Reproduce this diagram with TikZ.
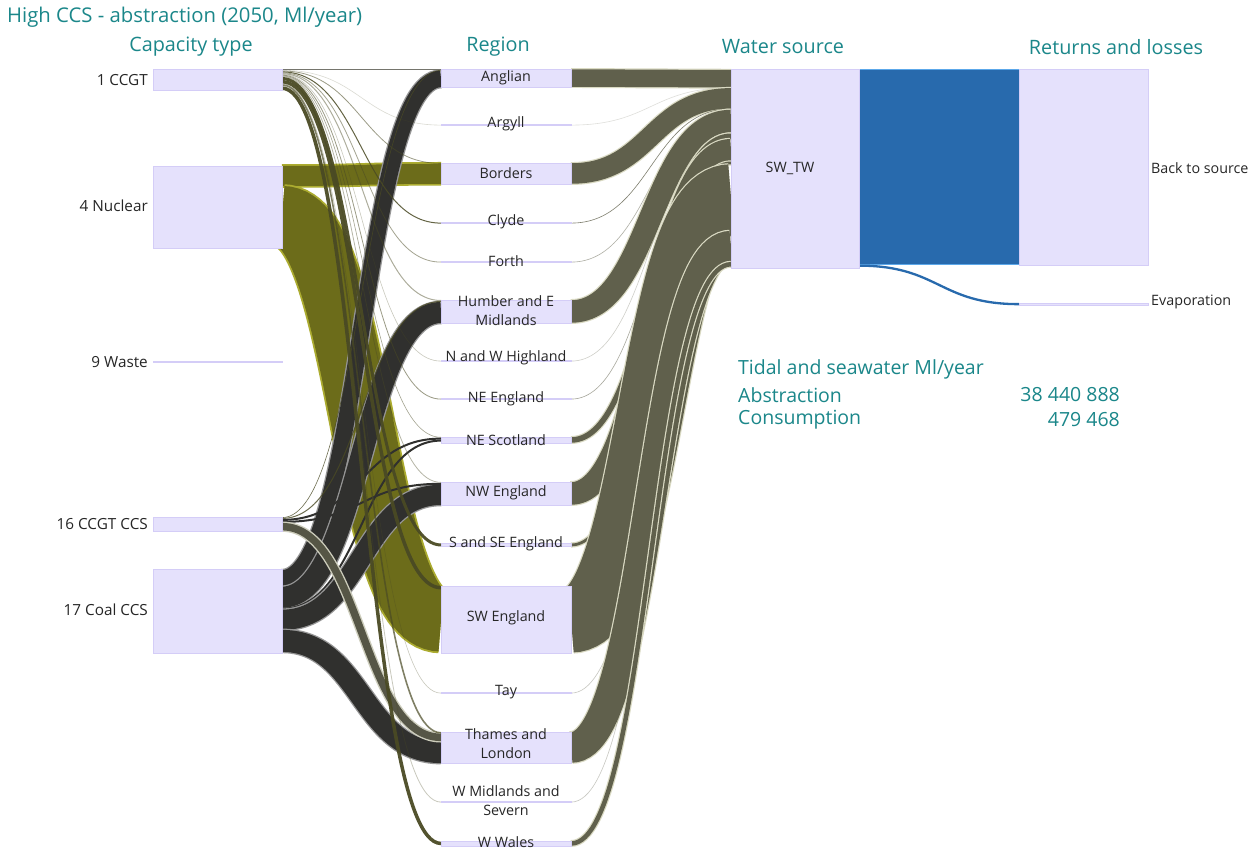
\documentclass[tikz,border=0pt]{standalone}
\usepackage{fontspec}
\setmainfont{Open Sans}
\usetikzlibrary{calc}
\definecolor{boxF}{RGB}{229,225,252}
\definecolor{boxD}{RGB}{212,205,247}
\definecolor{tealT}{RGB}{27,135,138}
\definecolor{ccgtC}{RGB}{74,74,36}
\definecolor{nucC}{RGB}{108,108,26}
\definecolor{nucL}{RGB}{172,172,48}
\definecolor{coalC}{RGB}{48,48,46}
\definecolor{coalL}{RGB}{150,150,150}
\definecolor{gccsC}{RGB}{86,86,70}
\definecolor{gccsL}{RGB}{205,205,188}
\definecolor{watC}{RGB}{96,96,76}
\definecolor{watL}{RGB}{218,218,195}
\definecolor{blueC}{RGB}{40,106,173}
\definecolor{blueL}{RGB}{92,168,234}
\pgfdeclarelayer{back}
\pgfdeclarelayer{flows}
\pgfsetlayers{back,flows,main}
\def\fw{1}
\tikzset{
  box/.style={draw=boxD, fill=boxF, line width=0.8pt, inner sep=0pt, outer sep=0pt, anchor=north west},
  lbl/.style={font=\fontsize{14.3}{19}\selectfont, text=black!85, inner sep=0pt, align=center},
  caplbl/.style={font=\fontsize{15.3}{19}\selectfont, text=black!85, inner sep=0pt, anchor=east},
  hdr/.style={font=\fontsize{19.8}{24}\selectfont, text=tealT, inner sep=0pt},
  ttl/.style={font=\fontsize{20.3}{24}\selectfont, text=tealT, inner sep=0pt},
  stat/.style={font=\fontsize{19.5}{24}\selectfont, text=tealT, inner sep=0pt},
  bnuc/.style={draw=nucL, line width=1.8pt, double=nucC, double distance=\fw pt},
  bcoal/.style={draw=coalL, line width=1.3pt, double=coalC, double distance=\fw pt},
  bgccs/.style={draw=gccsL, line width=1.4pt, double=gccsC, double distance=\fw pt},
  bwat/.style={draw=watL, line width=1.2pt, double=watC, double distance=\fw pt},
  bblue/.style={draw=blueL, line width=1.6pt, double=blueC, double distance=\fw pt},
  tccgt/.style={draw=ccgtC, draw opacity=#1},
  tccgt/.default=0.85,
  twat/.style={draw=watC, draw opacity=#1},
  twat/.default=0.5,
}
% #1 source node, #2 offset of band top in source, #3 width, #4 target node, #5 offset in target, #6 style
\newcommand\flowline[6]{%
  \def\fw{#3}%
  \draw[line width=#3pt, #6] let \p1=(#1.north east), \p2=(#4.north west) in
    (\x1,\y1-#2pt-#3pt/2) .. controls ({(\x1+\x2)/2},\y1-#2pt-#3pt/2) and ({(\x1+\x2)/2},\y2-#5pt-#3pt/2) .. (\x2,\y2-#5pt-#3pt/2);}
\begin{document}
\begin{tikzpicture}[x=1pt,y=-1pt]
\begin{pgfonlayer}{back}
\fill[white] (0,0) rectangle (1257,850);
\end{pgfonlayer}
\useasboundingbox (0,0) rectangle (1257,850);

% ---- capacity type nodes
\node[box, minimum width=129pt, minimum height=21pt] (ccgt) at (153,69) {};
\node[box, minimum width=129pt, minimum height=82pt] (nuclear) at (153,166) {};
\node[box, minimum width=129pt, minimum height=1.2pt] (waste) at (153,361.5) {};
\node[box, minimum width=129pt, minimum height=14pt] (gccs) at (153,517) {};
\node[box, minimum width=129pt, minimum height=84pt] (coal) at (153,569) {};

% ---- region nodes
\node[box, minimum width=130pt, minimum height=18pt] (anglian) at (441,69) {};
\node[box, minimum width=130pt, minimum height=1.2pt] (argyll) at (441,124.5) {};
\node[box, minimum width=130pt, minimum height=21pt] (borders) at (441,163) {};
\node[box, minimum width=130pt, minimum height=1.2pt] (clyde) at (441,222.5) {};
\node[box, minimum width=130pt, minimum height=1.2pt] (forth) at (441,261.5) {};
\node[box, minimum width=130pt, minimum height=23pt] (humber) at (441,300) {};
\node[box, minimum width=130pt, minimum height=1.2pt] (nwhigh) at (441,360.5) {};
\node[box, minimum width=130pt, minimum height=1.2pt] (neeng) at (441,398.5) {};
\node[box, minimum width=130pt, minimum height=6pt] (nescot) at (441,437) {};
\node[box, minimum width=130pt, minimum height=23pt] (nweng) at (441,482) {};
\node[box, minimum width=130pt, minimum height=3pt] (sseeng) at (441,543.5) {};
\node[box, minimum width=130pt, minimum height=67pt] (sweng) at (441,586) {};
\node[box, minimum width=130pt, minimum height=1.2pt] (tay) at (441,692.5) {};
\node[box, minimum width=130pt, minimum height=31pt] (thames) at (441,732) {};
\node[box, minimum width=130pt, minimum height=1.2pt] (wmid) at (441,801.5) {};
\node[box, minimum width=130pt, minimum height=5pt] (wwales) at (441,841) {};

% ---- water source and returns
\node[box, minimum width=128pt, minimum height=199pt] (swtw) at (731,69) {};
\node[box, minimum width=129pt, minimum height=196pt] (backsrc) at (1019,69) {};
\node[box, minimum width=129pt, minimum height=2.5pt] (evap) at (1019,303) {};

\begin{pgfonlayer}{flows}
% nuclear
\flowline{nuclear}{0}{20}{borders}{0.8}{bnuc}
\flowline{nuclear}{20}{62}{sweng}{3.5}{bnuc}
% coal CCS
\flowline{coal}{1.2}{16.5}{anglian}{1.6}{bcoal}
\flowline{coal}{17.7}{21}{humber}{2}{bcoal}
\flowline{coal}{38.7}{2}{nescot}{2.6}{draw=coalC}
\flowline{coal}{40.7}{20.2}{nweng}{2.8}{bcoal}
\flowline{coal}{60.9}{22}{thames}{9.1}{bcoal}
% CCGT CCS
\flowline{gccs}{0.3}{0.6}{anglian}{1}{tccgt=0.8}
\flowline{gccs}{0.9}{1}{humber}{1}{tccgt=0.8}
\flowline{gccs}{1.9}{2}{nescot}{0.6}{draw=coalC}
\flowline{gccs}{3.9}{2}{nweng}{0.8}{draw=coalC}
\flowline{gccs}{5.9}{7.5}{thames}{1.6}{bgccs}
% CCGT
\flowline{ccgt}{0}{1}{anglian}{0}{draw=gray!80!ccgtC}
\flowline{ccgt}{1}{0.6}{argyll}{0.3}{tccgt=0.2}
\flowline{ccgt}{1.6}{0.8}{borders}{0}{tccgt=0.55}
\flowline{ccgt}{2.4}{1}{clyde}{0.1}{tccgt=0.85}
\flowline{ccgt}{3.4}{0.8}{forth}{0.2}{tccgt=0.5}
\flowline{ccgt}{4.2}{1}{humber}{0}{tccgt=0.45}
\flowline{ccgt}{5.2}{0.6}{nwhigh}{0.3}{tccgt=0.3}
\flowline{ccgt}{5.8}{0.8}{neeng}{0.2}{tccgt=0.55}
\flowline{ccgt}{6.6}{0.6}{nescot}{0}{tccgt=0.5}
\flowline{ccgt}{7.2}{0.8}{nweng}{0}{tccgt=0.4}
\flowline{ccgt}{8}{3}{sseeng}{0}{tccgt=0.95}
\flowline{ccgt}{11}{3.5}{sweng}{0}{tccgt=0.95}
\flowline{ccgt}{14.5}{0.6}{tay}{0.3}{tccgt=0.3}
\flowline{ccgt}{15.1}{1.6}{thames}{0}{tccgt=0.7}
\flowline{ccgt}{16.7}{0.8}{wmid}{0.2}{tccgt=0.3}
\flowline{ccgt}{17.5}{3.5}{wwales}{0.7}{tccgt=0.95}
% regions -> SW_TW
\flowline{anglian}{0.25}{17.5}{swtw}{1}{bwat}
\flowline{argyll}{0.3}{0.6}{swtw}{18.5}{twat=0.2}
\flowline{borders}{0.25}{20.5}{swtw}{19.1}{bwat}
\flowline{clyde}{0.3}{0.6}{swtw}{39.6}{twat=0.8}
\flowline{forth}{0.3}{0.6}{swtw}{40.2}{twat=0.5}
\flowline{humber}{0.25}{22.5}{swtw}{40.8}{bwat}
\flowline{nwhigh}{0.3}{0.6}{swtw}{63.3}{twat=0.3}
\flowline{neeng}{0.3}{0.6}{swtw}{63.9}{twat=0.55}
\flowline{nescot}{0.25}{5.5}{swtw}{64.5}{bwat}
\flowline{nweng}{0.25}{22.5}{swtw}{70}{bwat}
\flowline{sseeng}{0.1}{2.8}{swtw}{92.5}{bwat}
\flowline{sweng}{0.5}{66}{swtw}{95.3}{bwat}
\flowline{tay}{0.3}{0.6}{swtw}{161.3}{twat=0.35}
\flowline{thames}{0.25}{30.5}{swtw}{161.9}{bwat}
\flowline{wmid}{0.3}{0.6}{swtw}{192.4}{twat=0.35}
\flowline{wwales}{0.25}{4.5}{swtw}{193}{bwat}
% SW_TW -> returns
\flowline{swtw}{1.5}{193}{backsrc}{1.5}{bblue}
\flowline{swtw}{195.5}{2.3}{evap}{0}{draw=blueC}
\end{pgfonlayer}

% ---- texts
\node[ttl, anchor=west] (title) at (7,17) {High CCS - abstraction (2050, Ml/year)};
\node[hdr] (h1) at (191,47) {Capacity type};
\node[hdr] (h2) at (498,47) {Region};
\node[hdr] (h3) at (783,47) {Water source};
\node[hdr] (h4) at (1116,47) {Returns and losses};

\node[caplbl] (l-ccgt) at (148,80) {1 CCGT};
\node[caplbl] (l-nuc) at (148,206) {4 Nuclear};
\node[caplbl] (l-waste) at (148,362) {9 Waste};
\node[caplbl] (l-gccs) at (148,524) {16 CCGT CCS};
\node[caplbl] (l-coal) at (148,610) {17 Coal CCS};

\node[lbl] (l-anglian) at (506,78) {Anglian};
\node[lbl] (l-argyll) at (506,124) {Argyll};
\node[lbl] (l-borders) at (506,173) {Borders};
\node[lbl] (l-clyde) at (506,222) {Clyde};
\node[lbl] (l-forth) at (506,261) {Forth};
\node[lbl] (l-humber) at (506,311) {Humber and E\\Midlands};
\node[lbl] (l-nwhigh) at (506,358) {N and W Highland};
\node[lbl] (l-neeng) at (506,399) {NE England};
\node[lbl] (l-nescot) at (506,440) {NE Scotland};
\node[lbl] (l-nweng) at (506,493) {NW England};
\node[lbl] (l-sseeng) at (506,544) {S and SE England};
\node[lbl] (l-sweng) at (506,618) {SW England};
\node[lbl] (l-tay) at (506,692) {Tay};
\node[lbl] (l-thames) at (506,744) {Thames and\\London};
\node[lbl] (l-wmid) at (506,801) {W Midlands and\\Severn};
\node[lbl] (l-wwales) at (506,842) {W Wales};

\node[lbl] (l-swtw) at (790,168) {SW\_TW};
\node[lbl, anchor=west] (l-back) at (1151,168) {Back to source};
\node[lbl, anchor=west] (l-evap) at (1151,302) {Evaporation};

\node[stat, anchor=west] (s0) at (738,369) {Tidal and seawater Ml/year};
\node[stat, anchor=west] (s1) at (738,395) {Abstraction};
\node[stat, anchor=west] (s2) at (738,420) {Consumption};
\node[stat, anchor=east] (s3) at (1120,395) {38 440 888};
\node[stat, anchor=east] (s4) at (1120,420) {479 468};
\end{tikzpicture}
\end{document}
